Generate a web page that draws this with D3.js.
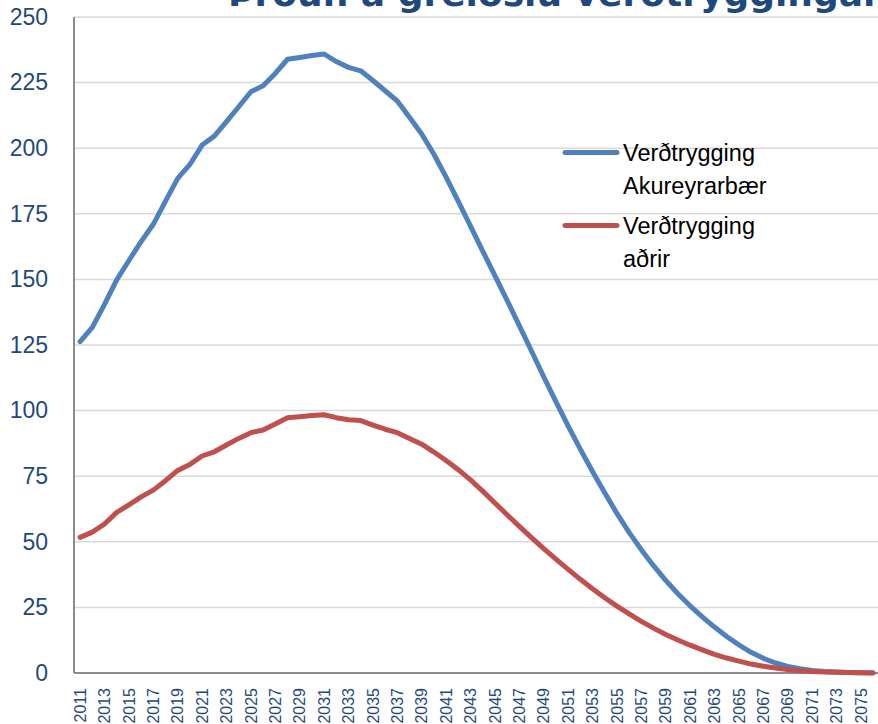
<!DOCTYPE html>
<html><head><meta charset="utf-8">
<script src="https://cdn.jsdelivr.net/npm/d3@7/dist/d3.min.js"></script>
<style>html,body{margin:0;padding:0;background:#fff;overflow:hidden}</style>
</head><body>
<svg id="c" width="878" height="724"></svg>
<script>
const title = "Þróun á greiðslu verðtryggingar";
const years = d3.range(2011, 2077);
const yTicks = [0,25,50,75,100,125,150,175,200,225,250];
const xTickLabels = d3.range(2011, 2077, 2);
const seriesNames = ["Verðtrygging Akureyrarbær", "Verðtrygging aðrir"];
const legendLines = [["Verðtrygging","Akureyrarbær"],["Verðtrygging","aðrir"]];
const akureyri = [126.3,131.7,140.5,149.8,157.2,164.4,171.0,179.8,188.5,193.8,
  201.2,204.6,210.1,215.8,221.5,223.8,228.5,233.9,234.6,235.3,
  235.9,233.0,230.8,229.5,225.8,221.9,218.0,211.8,205.4,197.7,
  189.0,179.7,170.3,160.8,151.4,142.0,132.4,122.7,112.9,103.4,
  94.2,85.3,76.8,68.7,60.8,53.6,47.0,40.9,35.3,30.2,
  25.6,21.4,17.5,13.9,10.7,7.9,5.6,3.8,2.5,1.6,
  1.0,0.6,0.35,0.2,0.1,0.05];
const adrir = [51.7,53.7,56.8,61.2,64.1,67.1,69.7,73.3,77.2,79.5,
  82.7,84.3,86.9,89.4,91.6,92.6,94.9,97.3,97.7,98.1,
  98.4,97.3,96.5,96.2,94.5,92.9,91.6,89.4,87.2,84.2,
  81.0,77.5,73.6,69.3,64.8,60.3,55.9,51.6,47.4,43.4,
  39.5,35.7,32.1,28.7,25.5,22.5,19.7,17.1,14.7,12.6,
  10.6,8.8,7.1,5.7,4.5,3.4,2.6,1.9,1.3,0.9,
  0.6,0.4,0.25,0.15,0.08,0.04];
const colors = ["#4F81BD", "#C0504D"];
const textColor = "#1F497D";
const fontFam = "'Liberation Sans', Arial, sans-serif";

const svg = d3.select("#c");
const pLeft = 74, pRight = 879.2, pTop = 17, pBottom = 673;
const x = d3.scaleBand().domain(years).range([pLeft, pRight]);
const xc = d => x(d) + x.bandwidth() / 2;
const y = d3.scaleLinear().domain([0, 250]).range([pBottom, pTop]);

// gridlines
svg.append("g").selectAll("line").data(yTicks.filter(t => t > 0)).join("line")
  .attr("x1", pLeft).attr("x2", 878).attr("y1", d => y(d)).attr("y2", d => y(d))
  .attr("stroke", "#D9D9D9").attr("stroke-width", 1.5);

// y axis labels
const ya = svg.append("g").attr("transform", `translate(${pLeft},0)`)
  .call(d3.axisLeft(y).tickValues(yTicks).tickSize(0).tickPadding(26));
ya.select(".domain").remove();
ya.selectAll("text").attr("font-size", 23).attr("font-family", fontFam).attr("fill", textColor);

// x axis
const xa = svg.append("g").attr("transform", `translate(0,${pBottom})`)
  .call(d3.axisBottom(x).tickValues(xTickLabels).tickSize(0));
xa.select(".domain").remove();
xa.selectAll("text").attr("font-size", 16).attr("font-family", fontFam).attr("fill", textColor)
  .attr("transform", "rotate(-90)").attr("text-anchor", "end")
  .attr("x", -15).attr("y", 0).attr("dy", "0.35em");

// axis lines
svg.append("line").attr("x1", pLeft).attr("x2", pLeft).attr("y1", pTop).attr("y2", pBottom)
  .attr("stroke", "#8C8C8C").attr("stroke-width", 2);
svg.append("line").attr("x1", pLeft).attr("x2", 878).attr("y1", pBottom).attr("y2", pBottom)
  .attr("stroke", "#8C8C8C").attr("stroke-width", 2);

// lines
const line = d3.line().x((d, i) => xc(years[i])).y(d => y(d));
[akureyri, adrir].forEach((s, k) => {
  svg.append("path").datum(s).attr("d", line).attr("fill", "none")
    .attr("stroke", colors[k]).attr("stroke-width", 5)
    .attr("stroke-linejoin", "round").attr("stroke-linecap", "round");
});

// legend
const lg = svg.append("g");
[[152.5, 0], [225.5, 1]].forEach(([ly, k]) => {
  lg.append("line").attr("x1", 565).attr("x2", 617).attr("y1", ly).attr("y2", ly)
    .attr("stroke", colors[k]).attr("stroke-width", 5).attr("stroke-linecap", "round");
  legendLines[k].forEach((t, j) => {
    lg.append("text").attr("x", 623).attr("y", ly + 8 + j * 33).text(t)
      .attr("font-size", 23.5).attr("font-family", fontFam).attr("fill", "#000");
  });
});

// title (cropped at top of picture, as in the source)
svg.append("text").attr("x", 228).attr("y", 6).text(title)
  .attr("font-size", 36).attr("font-weight", "bold").attr("font-family", "'DejaVu Sans', sans-serif")
  .attr("fill", textColor);
</script>
</body></html>
